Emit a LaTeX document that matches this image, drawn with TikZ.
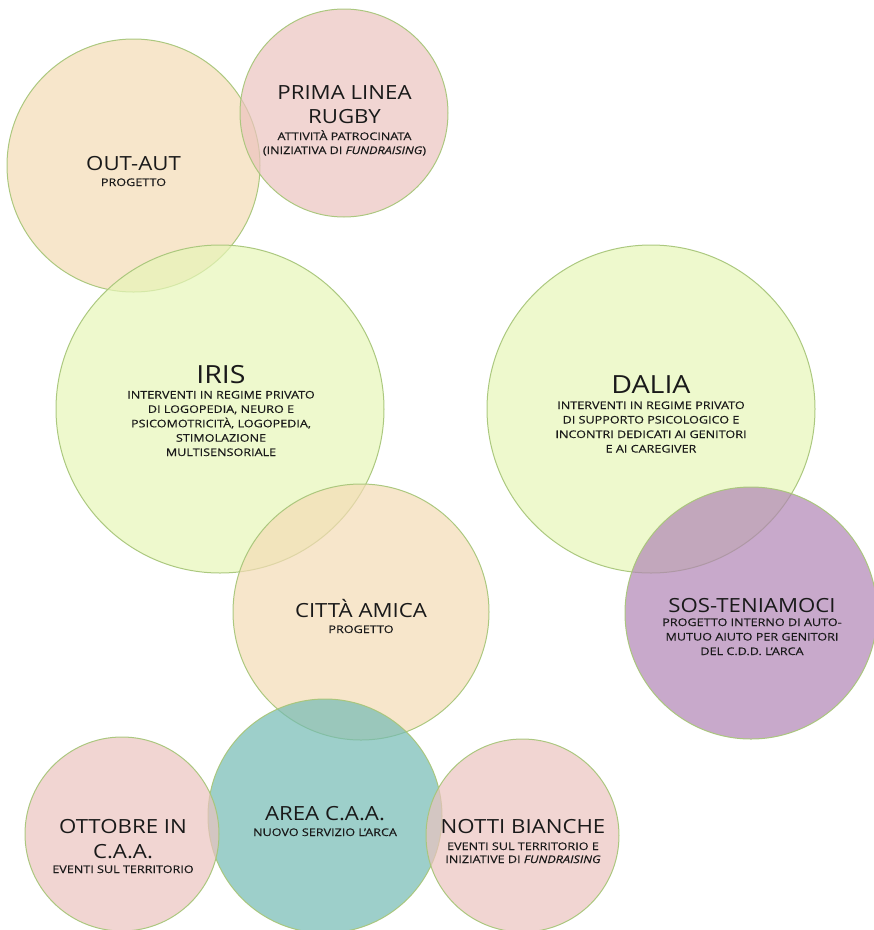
\documentclass[tikz,border=0pt]{standalone}
\usepackage{fontspec}
\setmainfont{Open Sans}
\newfontfamily\ttlfont[FakeStretch=1.14]{Open Sans}
\newfontfamily\subfont[FakeStretch=1.2,FakeBold=0.4]{Open Sans}
\definecolor{cstroke}{RGB}{168,198,122}
\definecolor{cpeach}{RGB}{244,219,181}
\definecolor{cpink}{RGB}{235,195,191}
\definecolor{cgreen}{RGB}{231,246,184}
\definecolor{cpurple}{RGB}{176,132,181}
\definecolor{cteal}{RGB}{115,186,180}
\definecolor{ctext}{RGB}{26,26,26}
\tikzset{
  circ/.style={circle, draw=cstroke, line width=1pt, fill opacity=0.7, draw opacity=0.95, inner sep=0, minimum size=#1},
  ttl/.style={font=\ttlfont\fontsize{19.5}{23}\selectfont, anchor=base, inner sep=0, text=ctext},
  bigttl/.style={font=\ttlfont\fontsize{25}{30}\selectfont, anchor=base, inner sep=0, text=ctext},
  sub/.style={font=\subfont\fontsize{10.5}{13}\selectfont, anchor=base, inner sep=0, text=ctext},
}
\begin{document}
\begin{tikzpicture}[x=1pt,y=-1pt]
\useasboundingbox (0,0) rectangle (874,930);
% circles
\node[circ=253pt, fill=cpeach] (outaut) at (133.5,165.5) {};
\node[circ=208pt, fill=cpink] (prima) at (344,113) {};
\node[circ=328pt, fill=cgreen] (iris) at (220,409) {};
\node[circ=328pt, fill=cgreen] (dalia) at (651,409) {};
\node[circ=256pt, fill=cpeach] (citta) at (361,612) {};
\node[circ=252pt, fill=cpurple] (sos) at (751,613) {};
\node[circ=234pt, fill=cteal] (area) at (325,816) {};
\node[circ=194pt, fill=cpink] (ottobre) at (122,834) {};
\node[circ=193pt, fill=cpink] (notti) at (522.5,835.5) {};
% texts
\node[ttl] (outaut-t) at (133.5,170) {OUT-AUT};
\node[sub] (outaut-s) at (133.5,186) {PROGETTO};

\node[ttl] (prima-t1) at (344.5,99) {PRIMA LINEA};
\node[ttl] (prima-t2) at (344.5,123) {RUGBY};
\node[sub] (prima-s1) at (344.5,140) {ATTIVITÀ PATROCINATA};
\node[sub] (prima-s2) at (344.5,154) {(INIZIATIVA DI \textit{FUNDRAISING})};

\node[bigttl] (iris-t) at (221,383) {IRIS};
\node[sub] (iris-s1) at (221,398.5) {INTERVENTI IN REGIME PRIVATO};
\node[sub] (iris-s2) at (221,412.9) {DI LOGOPEDIA, NEURO E};
\node[sub] (iris-s3) at (221,427.3) {PSICOMOTRICITÀ, LOGOPEDIA,};
\node[sub] (iris-s4) at (221,441.7) {STIMOLAZIONE};
\node[sub] (iris-s5) at (221,456) {MULTISENSORIALE};

\node[bigttl] (dalia-t) at (651,393) {DALIA};
\node[sub] (dalia-s1) at (651,409) {INTERVENTI IN REGIME PRIVATO};
\node[sub] (dalia-s2) at (651,423.5) {DI SUPPORTO PSICOLOGICO E};
\node[sub] (dalia-s3) at (651,438) {INCONTRI DEDICATI AI GENITORI};
\node[sub] (dalia-s4) at (651,452.5) {E AI CAREGIVER};

\node[ttl] (sos-t) at (752,612) {SOS-TENIAMOCI};
\node[sub] (sos-s1) at (752,626) {PROGETTO INTERNO DI AUTO-};
\node[sub] (sos-s2) at (752,640.5) {MUTUO AIUTO PER GENITORI};
\node[sub] (sos-s3) at (752,655) {DEL C.D.D. L’ARCA};

\node[ttl] (citta-t) at (361,617) {CITTÀ AMICA};
\node[sub] (citta-s) at (361,633) {PROGETTO};

\node[ttl] (area-t) at (325,820) {AREA C.A.A.};
\node[sub] (area-s) at (325,836) {NUOVO SERVIZIO L’ARCA};

\node[ttl] (ottobre-t1) at (123,833) {OTTOBRE IN};
\node[ttl] (ottobre-t2) at (123,858) {C.A.A.};
\node[sub] (ottobre-s) at (123,873) {EVENTI SUL TERRITORIO};

\node[ttl] (notti-t) at (523,833) {NOTTI BIANCHE};
\node[sub] (notti-s1) at (523,850) {EVENTI SUL TERRITORIO E};
\node[sub] (notti-s2) at (523,863) {INIZIATIVE DI \textit{FUNDRAISING}};
\end{tikzpicture}
\end{document}
